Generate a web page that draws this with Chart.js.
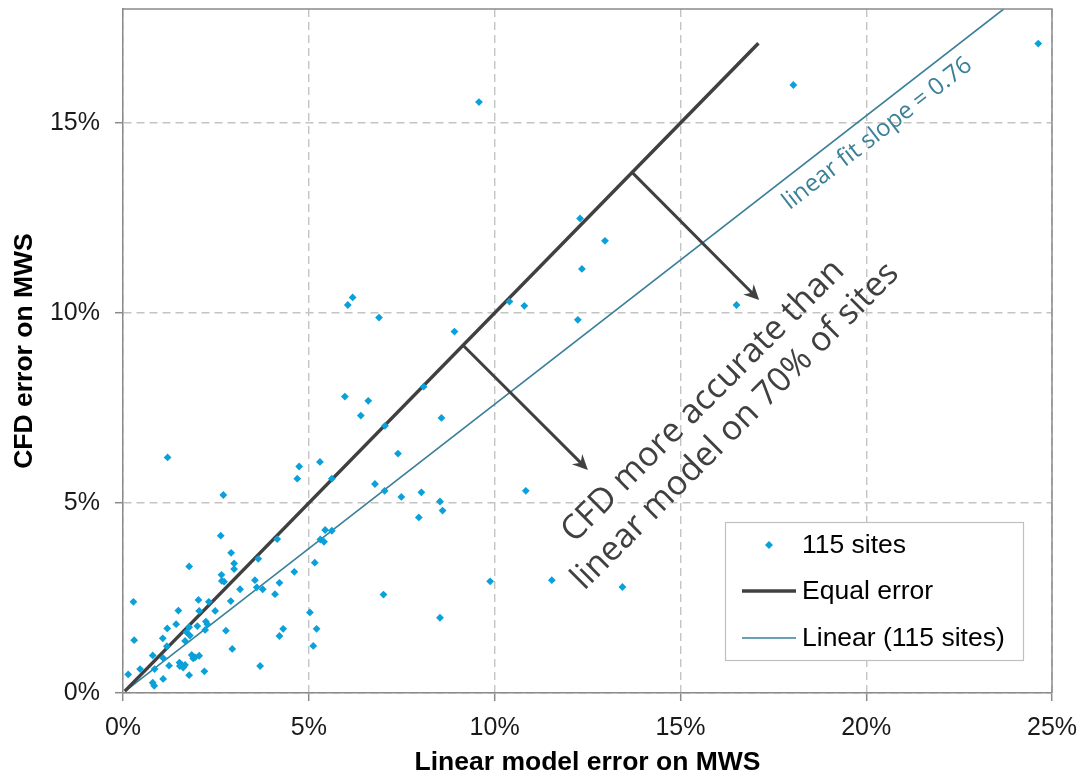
<!DOCTYPE html>
<html><head><meta charset="utf-8">
<script src="https://cdn.jsdelivr.net/npm/chart.js@4.4.1/dist/chart.umd.min.js"></script>
<style>html,body{margin:0;padding:0;background:#fff;} canvas{display:block;}</style>
</head><body>
<canvas id="c" width="1081" height="776"></canvas>
<script>
// ---- data (percent) ----
const siteX = [0.28,0.30,0.14,0.46,0.80,0.85,0.80,0.84,1.08,1.07,
  1.19,1.18,1.08,1.24,1.49,1.43,1.78,1.52,1.58,1.62,
  1.53,1.67,1.78,1.71,1.78,1.80,1.67,1.85,1.89,1.94,
  2.05,2.00,2.05,2.03,2.19,2.23,2.27,2.21,2.31,2.48,
  2.65,2.66,2.72,2.77,2.90,2.99,2.99,2.94,3.15,3.55,
  3.60,3.76,3.64,3.69,4.09,4.21,4.31,4.21,4.15,4.61,
  4.69,4.74,5.30,5.62,5.03,5.21,5.12,5.16,5.44,5.31,
  5.41,5.62,1.20,2.70,2.63,2.91,6.18,6.05,6.89,10.40,
  10.80,8.92,8.09,5.97,6.60,6.40,8.57,7.05,7.40,6.78,
  7.04,7.49,8.03,8.53,8.60,7.96,10.84,9.88,11.54,7.01,
  8.53,13.44,12.30,12.97,12.35,12.24,16.51,9.58,18.04,24.63];
const siteY = [2.40,1.39,0.49,0.63,0.99,0.63,0.27,0.19,0.37,1.44,
  1.70,1.23,0.92,0.72,2.17,1.81,3.33,0.80,0.74,0.67,
  0.71,0.74,0.47,1.60,1.73,1.51,1.37,1.00,0.91,0.94,
  0.98,1.76,2.16,2.45,0.57,1.88,1.81,1.66,2.40,2.16,
  3.11,2.95,2.93,1.64,2.42,3.41,3.26,1.16,2.73,2.97,
  2.78,2.73,3.53,0.71,2.60,2.90,1.69,1.50,4.05,3.19,
  5.64,5.96,6.08,5.64,2.12,1.69,1.24,3.43,4.29,4.04,
  3.98,4.27,6.20,5.21,4.14,3.69,10.41,10.21,9.88,10.30,
  10.19,9.51,8.06,7.80,7.69,7.30,7.24,7.03,6.30,5.50,
  5.32,5.16,5.28,5.04,4.80,4.62,5.32,2.94,2.97,2.59,
  1.98,2.79,12.49,11.90,11.16,9.82,10.21,15.55,16.00,17.09];
const equalX = [0.05, 17.1];
const equalY = [0.05, 17.1];
const fitX = [0.05, 23.7];
const fitY = [0.04, 18.0];
const xTicks = [0, 5, 10, 15, 20, 25];
const yTicks = [0, 5, 10, 15];
const seriesNames = ['115 sites', 'Equal error', 'Linear (115 sites)'];
const xTitle = 'Linear model error on MWS';
const yTitle = 'CFD error on MWS';
// annotation arrows (from point on equal-error line to tip)
const arrowFromX = [13.70, 9.15];
const arrowFromY = [13.70, 9.15];
const arrowToX = [17.12, 12.51];
const arrowToY = [10.34, 5.87];
// annotation texts
const noteLines = ['CFD more accurate than', 'linear model on 70% of sites'];
const noteX = [15.61, 16.48];
const noteY = [7.68, 7.02];
const fitNote = 'linear fit slope = 0.76';
const fitNoteX = [20.30];
const fitNoteY = [14.72];

const pts = siteX.map((v, i) => ({x: v, y: siteY[i]}));
const eqPts = equalX.map((v, i) => ({x: v, y: equalY[i]}));
const fitPts = fitX.map((v, i) => ({x: v, y: fitY[i]}));

const BLUE = '#0aa0da', DARK = '#404040', TEAL = '#3a8098', AXIS = '#8a8a8a', GRID = '#c4c4c4';

const deco = {
  id: 'deco',
  afterDatasetsDraw(chart) {
    const {ctx, chartArea: a, scales: {x, y}} = chart;
    ctx.save();
    // top & right border
    ctx.strokeStyle = AXIS; ctx.lineWidth = 1.5; ctx.setLineDash([]);
    ctx.beginPath(); ctx.moveTo(a.left, a.top); ctx.lineTo(a.right, a.top); ctx.lineTo(a.right, a.bottom); ctx.stroke();
    // arrows
    ctx.strokeStyle = DARK; ctx.fillStyle = DARK; ctx.lineWidth = 3; ctx.lineCap = 'butt'; ctx.lineJoin = 'miter';
    for (let i = 0; i < arrowFromX.length; i++) {
      const x0 = x.getPixelForValue(arrowFromX[i]), y0 = y.getPixelForValue(arrowFromY[i]);
      const x1 = x.getPixelForValue(arrowToX[i]), y1 = y.getPixelForValue(arrowToY[i]);
      const t = Math.atan2(y1 - y0, x1 - x0);
      ctx.beginPath(); ctx.moveTo(x0, y0); ctx.lineTo(x1 - 5 * Math.cos(t), y1 - 5 * Math.sin(t)); ctx.stroke();
      const L = 17, w = 0.45;
      ctx.beginPath();
      ctx.moveTo(x1, y1);
      ctx.lineTo(x1 - L * Math.cos(t - w), y1 - L * Math.sin(t - w));
      ctx.lineTo(x1 - 0.6 * L * Math.cos(t), y1 - 0.6 * L * Math.sin(t));
      ctx.lineTo(x1 - L * Math.cos(t + w), y1 - L * Math.sin(t + w));
      ctx.closePath(); ctx.fill();
    }
    // note text
    ctx.fillStyle = DARK; ctx.font = '34px "Open Sans"'; ctx.textAlign = 'center'; ctx.textBaseline = 'middle';
    for (let i = 0; i < noteLines.length; i++) {
      ctx.save();
      ctx.translate(x.getPixelForValue(noteX[i]), y.getPixelForValue(noteY[i]));
      ctx.rotate(-Math.PI / 4);
      ctx.fillText(noteLines[i], 0, 0);
      ctx.restore();
    }
    // fit note
    ctx.fillStyle = TEAL; ctx.font = '24px "Open Sans"';
    {
      const px = x.getPixelForValue(fitNoteX[0]), py = y.getPixelForValue(fitNoteY[0]);
      const ang = Math.atan2(y.getPixelForValue(fitY[1]) - y.getPixelForValue(fitY[0]), x.getPixelForValue(fitX[1]) - x.getPixelForValue(fitX[0]));
      ctx.save(); ctx.translate(px, py); ctx.rotate(ang); ctx.fillText(fitNote, 0, 0); ctx.restore();
    }
    // legend
    const bx = a.right - 327, by = a.bottom - 171, bw = 298, bh = 138;
    ctx.fillStyle = '#fff'; ctx.fillRect(bx, by, bw, bh);
    ctx.strokeStyle = '#c0c0c0'; ctx.lineWidth = 1.2; ctx.strokeRect(bx + 0.5, by + 0.5, bw, bh);
    const rows = [by + 23, by + 69, by + 116];
    const ds = chart.data.datasets;
    ctx.textAlign = 'left'; ctx.textBaseline = 'middle'; ctx.font = '26.5px "Liberation Sans", Arial';
    ctx.fillStyle = BLUE;
    ctx.beginPath();
    const mx = bx + 44, r = 4;
    ctx.moveTo(mx - r, rows[0]); ctx.lineTo(mx, rows[0] - r); ctx.lineTo(mx + r, rows[0]); ctx.lineTo(mx, rows[0] + r); ctx.closePath(); ctx.fill();
    ctx.strokeStyle = ds[1].borderColor; ctx.lineWidth = ds[1].borderWidth;
    ctx.beginPath(); ctx.moveTo(bx + 17, rows[1]); ctx.lineTo(bx + 71, rows[1]); ctx.stroke();
    ctx.strokeStyle = ds[2].borderColor; ctx.lineWidth = ds[2].borderWidth;
    ctx.beginPath(); ctx.moveTo(bx + 17, rows[2]); ctx.lineTo(bx + 71, rows[2]); ctx.stroke();
    ctx.fillStyle = '#000';
    for (let i = 0; i < 3; i++) ctx.fillText(ds[i].label, bx + 77, rows[i] + 1);
    ctx.restore();
  }
};

const tickFont = {family: '"Liberation Sans", Arial', size: 25};
const titleFont = {family: '"Liberation Sans", Arial', size: 26.5, weight: 'bold', lineHeight: 1};

new Chart(document.getElementById('c'), {
  type: 'scatter',
  data: {
    datasets: [
      {label: seriesNames[0], data: pts, backgroundColor: BLUE, borderColor: BLUE, borderWidth: 0,
       pointStyle: 'rectRot', pointRadius: 3.9, pointHoverRadius: 3.9, order: 0},
      {label: seriesNames[1], type: 'line', data: eqPts, borderColor: DARK, borderWidth: 3.5,
       pointRadius: 0, fill: false, order: 1},
      {label: seriesNames[2], type: 'line', data: fitPts, borderColor: TEAL, borderWidth: 1.6,
       pointRadius: 0, fill: false, order: 2}
    ]
  },
  options: {
    responsive: false,
    animation: false,
    events: [],
    layout: {padding: {left: 0, right: 29, top: 9, bottom: 0}},
    plugins: {legend: {display: false}, tooltip: {enabled: false}},
    scales: {
      x: {
        type: 'linear', min: 0, max: 25,
        afterBuildTicks: s => { s.ticks = xTicks.map(v => ({value: v})); },
        afterFit: s => { s.height = 83; s.paddingLeft = 0; s.paddingRight = 0; },
        ticks: {font: tickFont, color: '#1a1a1a', padding: 12, callback: v => v + '%', maxRotation: 0},
        grid: {color: GRID, lineWidth: 1.4, tickLength: 8, tickColor: AXIS, tickWidth: 1.5},
        border: {color: AXIS, width: 1.5, dash: [8, 5]},
        title: {display: true, text: xTitle, font: titleFont, color: '#000', padding: {top: 0, bottom: 0}}
      },
      y: {
        type: 'linear', min: 0, max: 18,
        afterBuildTicks: s => { s.ticks = yTicks.map(v => ({value: v})); },
        afterFit: s => { s.width = 123; s.paddingTop = 0; s.paddingBottom = 0; },
        ticks: {font: tickFont, color: '#1a1a1a', padding: 15, callback: v => v + '%'},
        grid: {color: GRID, lineWidth: 1.4, tickLength: 8, tickColor: AXIS, tickWidth: 1.5},
        border: {color: AXIS, width: 1.5, dash: [8, 5]},
        title: {display: true, text: yTitle, font: titleFont, color: '#000', padding: {top: 11, bottom: 0}}
      }
    }
  },
  plugins: [deco]
});
</script>
</body></html>
